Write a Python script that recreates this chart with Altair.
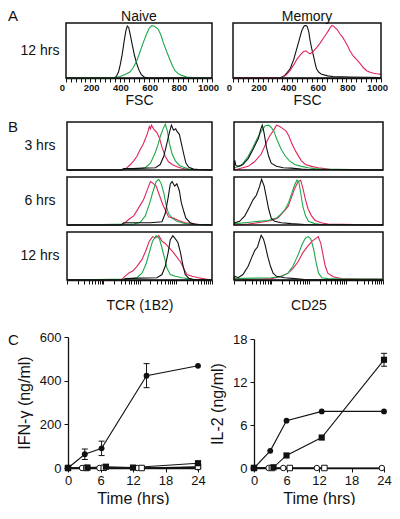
import math
import altair as alt
import pandas as pd

FONT = "Liberation Sans"
W, H = 384, 497
INK = "#111111"
GREEN = "#1ea84a"
RED = "#e0245a"

# ---------------- Panel A : FSC histograms at 12 hrs (channel 0-1000, relative count) ----------------
fsc_ticks = [i * 100 / 3 for i in range(31)]
naive_black_x = [0, 330, 345, 360, 372, 385, 398, 410, 420, 430, 442, 455, 470, 485, 500, 515, 535, 560, 1000]
naive_black_y = [0, 0, 0.03, 0.12, 0.26, 0.45, 0.7, 0.9, 0.99, 0.96, 0.8, 0.62, 0.42, 0.27, 0.15, 0.07, 0.02, 0, 0]
naive_green_x = [0, 330, 370, 416, 440, 461, 485, 507, 530, 553, 570, 587, 605, 632, 650, 667, 690, 712, 730, 747, 770, 792, 827, 870, 1000]
naive_green_y = [0, 0, 0.03, 0.08, 0.12, 0.2, 0.33, 0.5, 0.68, 0.85, 0.95, 1.0, 0.99, 0.93, 0.82, 0.67, 0.5, 0.35, 0.23, 0.14, 0.08, 0.05, 0.02, 0.01, 0]
memory_black_x = [0, 318, 350, 385, 410, 430, 450, 464, 478, 486, 495, 502, 512, 520, 532, 543, 555, 565, 580, 599, 640, 676, 790, 1000]
memory_black_y = [0, 0, 0.05, 0.17, 0.35, 0.55, 0.75, 0.9, 0.98, 1.0, 1.0, 0.98, 0.88, 0.73, 0.56, 0.43, 0.28, 0.17, 0.11, 0.07, 0.04, 0.03, 0.02, 0.01]
memory_red_x = [0, 329, 360, 385, 410, 430, 455, 475, 493, 505, 520, 540, 565, 590, 610, 630, 644, 656, 667, 680,
                689, 705, 723, 740, 757, 775, 790, 812, 836, 858, 880, 903, 926, 950, 971, 1000]
memory_red_y = [0, 0, 0.06, 0.14, 0.25, 0.35, 0.44, 0.5, 0.52, 0.49, 0.46, 0.5, 0.58, 0.67, 0.76, 0.84, 0.9, 0.96, 1.0, 0.99,
                0.96, 0.92, 0.84, 0.78, 0.7, 0.61, 0.52, 0.42, 0.35, 0.28, 0.2, 0.14, 0.11, 0.09, 0.08, 0.07]

# ---------------- Panel B : fluorescence histograms (log10 decades 0-4) ----------------
log_ticks = sorted([d + math.log10(k) for d in range(4) for k in range(1, 10)] + [4])
row_labels = ["3 hrs", "6 hrs", "12 hrs"]

tcr3_black_x = [0, 1.5, 1.56, 1.8, 2.1, 2.44, 2.57, 2.67, 2.76, 2.82, 2.88, 2.94, 3.0, 3.03, 3.1, 3.15, 3.22, 3.28, 3.36, 3.49, 3.63, 4]
tcr3_black_y = [0, 0, 0.03, 0.03, 0.04, 0.05, 0.12, 0.3, 0.6, 0.8, 0.98, 0.87, 0.9, 0.85, 0.78, 0.6, 0.35, 0.15, 0.06, 0.02, 0.01, 0]
tcr3_red_x = [0, 1.55, 1.61, 1.75, 1.84, 1.93, 2.02, 2.11, 2.21, 2.24, 2.27, 2.3, 2.33, 2.39, 2.48, 2.55, 2.62, 2.71, 2.8, 2.9, 3.03, 3.17, 3.36, 4]
tcr3_red_y = [0, 0, 0.02, 0.12, 0.2, 0.3, 0.45, 0.58, 0.78, 0.86, 0.95, 0.9, 0.98, 0.9, 0.82, 0.7, 0.5, 0.3, 0.18, 0.12, 0.07, 0.04, 0.01, 0]
tcr3_green_x = [0, 1.9, 2.16, 2.3, 2.42, 2.51, 2.58, 2.65, 2.71, 2.77, 2.82, 2.9, 2.99, 3.1, 3.22, 3.36, 3.5, 4]
tcr3_green_y = [0, 0.01, 0.05, 0.15, 0.35, 0.55, 0.75, 0.9, 1.0, 0.85, 0.6, 0.35, 0.2, 0.1, 0.06, 0.02, 0.01, 0]

tcr6_black_x = [0, 1.5, 1.56, 2.0, 2.3, 2.62, 2.71, 2.79, 2.85, 2.9, 2.97, 3.03, 3.1, 3.15, 3.22, 3.28, 3.4, 3.54, 4]
tcr6_black_y = [0, 0, 0.05, 0.05, 0.05, 0.07, 0.25, 0.6, 0.9, 0.95, 0.85, 0.9, 0.75, 0.5, 0.3, 0.15, 0.05, 0.01, 0]
tcr6_red_x = [0, 1.5, 1.56, 1.7, 1.84, 1.98, 2.11, 2.23, 2.3, 2.36, 2.46, 2.55, 2.64, 2.73, 2.8, 2.94, 3.08, 3.26, 3.49, 3.63, 4]
tcr6_red_y = [0, 0, 0.02, 0.12, 0.2, 0.38, 0.55, 0.8, 0.95, 0.92, 0.85, 0.65, 0.45, 0.3, 0.18, 0.15, 0.1, 0.05, 0.03, 0.01, 0]
tcr6_green_x = [0, 1.84, 2.02, 2.16, 2.27, 2.36, 2.46, 2.53, 2.6, 2.67, 2.73, 2.8, 2.9, 3.03, 3.22, 3.4, 4]
tcr6_green_y = [0, 0.02, 0.06, 0.2, 0.45, 0.7, 0.95, 1.0, 0.9, 0.7, 0.45, 0.25, 0.15, 0.08, 0.04, 0.02, 0]

tcr12_black_x = [0, 1.55, 1.61, 2.0, 2.48, 2.62, 2.71, 2.79, 2.85, 2.92, 2.99, 3.06, 3.13, 3.19, 3.26, 3.36, 3.49, 4]
tcr12_black_y = [0, 0, 0.03, 0.04, 0.05, 0.12, 0.3, 0.6, 0.88, 0.97, 0.9, 0.82, 0.6, 0.35, 0.12, 0.04, 0.01, 0]
tcr12_red_x = [0, 1.5, 1.56, 1.7, 1.82, 1.93, 2.07, 2.18, 2.27, 2.36, 2.44, 2.53, 2.62, 2.71, 2.82, 2.94, 3.03, 3.13, 3.22, 3.31, 3.45, 3.63, 3.82, 4]
tcr12_red_y = [0, 0, 0.05, 0.15, 0.2, 0.3, 0.45, 0.65, 0.85, 0.95, 0.92, 0.97, 0.85, 0.8, 0.7, 0.6, 0.5, 0.4, 0.25, 0.12, 0.08, 0.05, 0.02, 0]
tcr12_green_x = [0, 1.66, 1.93, 2.07, 2.18, 2.27, 2.36, 2.46, 2.55, 2.62, 2.7, 2.76, 2.85, 2.99, 3.17, 3.36, 3.49, 4]
tcr12_green_y = [0, 0.02, 0.05, 0.15, 0.35, 0.6, 0.85, 0.97, 0.9, 0.7, 0.45, 0.25, 0.12, 0.08, 0.05, 0.03, 0.01, 0]

cd3_black_x = [0, 0.02, 0.05, 0.11, 0.24, 0.38, 0.51, 0.6, 0.66, 0.72, 0.76, 0.81, 0.87, 0.93, 1.0, 1.14, 1.32, 1.54, 1.81, 1.99, 4]
cd3_black_y = [0, 0.21, 0.1, 0.08, 0.12, 0.25, 0.45, 0.6, 0.7, 0.9, 0.98, 0.8, 0.5, 0.3, 0.15, 0.08, 0.05, 0.04, 0.02, 0.01, 0]
cd3_green_x = [0, 0.02, 0.2, 0.38, 0.51, 0.63, 0.73, 0.84, 0.93, 1.0, 1.07, 1.16, 1.27, 1.38, 1.49, 1.63, 1.81, 1.99, 2.17, 2.34, 4]
cd3_green_y = [0, 0.05, 0.1, 0.3, 0.5, 0.7, 0.85, 0.97, 0.98, 0.93, 0.85, 0.65, 0.45, 0.3, 0.2, 0.12, 0.08, 0.05, 0.03, 0.02, 0]
cd3_red_x = [0, 0.11, 0.38, 0.55, 0.73, 0.87, 0.96, 1.05, 1.14, 1.23, 1.32, 1.4, 1.47, 1.54, 1.63, 1.72, 1.81, 1.92, 2.08, 2.26, 2.43, 2.6, 4]
cd3_red_y = [0, 0.02, 0.08, 0.18, 0.35, 0.6, 0.75, 0.85, 0.98, 0.95, 0.9, 0.85, 0.75, 0.6, 0.45, 0.32, 0.2, 0.12, 0.08, 0.05, 0.03, 0.01, 0]

cd6_black_x = [0, 0.02, 0.15, 0.29, 0.42, 0.51, 0.6, 0.69, 0.74, 0.81, 0.87, 0.93, 1.0, 1.09, 1.27, 1.54, 1.9, 4]
cd6_black_y = [0, 0.05, 0.08, 0.2, 0.4, 0.55, 0.65, 0.85, 1.0, 0.85, 0.6, 0.35, 0.15, 0.08, 0.05, 0.03, 0.01, 0]
cd6_green_x = [0, 0.02, 0.29, 0.64, 0.91, 1.14, 1.27, 1.38, 1.47, 1.56, 1.63, 1.69, 1.74, 1.79, 1.85, 1.92, 2.0, 2.17, 2.34, 4]
cd6_green_y = [0, 0.03, 0.05, 0.08, 0.1, 0.15, 0.25, 0.35, 0.5, 0.72, 0.88, 0.98, 0.95, 0.7, 0.4, 0.2, 0.08, 0.03, 0.01, 0]
cd6_red_x = [0, 0.38, 0.73, 1.0, 1.18, 1.32, 1.45, 1.54, 1.63, 1.72, 1.79, 1.85, 1.92, 1.99, 2.08, 2.18, 2.34, 2.52, 4]
cd6_red_y = [0, 0.02, 0.06, 0.1, 0.15, 0.28, 0.4, 0.6, 0.8, 0.95, 0.98, 0.8, 0.55, 0.35, 0.2, 0.1, 0.05, 0.02, 0]

cd12_black_x = [0, 0.02, 0.11, 0.24, 0.38, 0.48, 0.56, 0.63, 0.69, 0.73, 0.79, 0.84, 0.91, 0.98, 1.05, 1.14, 1.36, 1.63, 1.9, 4]
cd12_black_y = [0, 0.08, 0.05, 0.12, 0.3, 0.5, 0.65, 0.72, 0.88, 0.98, 0.9, 0.75, 0.5, 0.3, 0.15, 0.08, 0.05, 0.03, 0.01, 0]
cd12_green_x = [0, 0.02, 0.55, 1.0, 1.27, 1.45, 1.58, 1.72, 1.83, 1.92, 1.99, 2.06, 2.13, 2.2, 2.27, 2.36, 2.52, 2.97, 3.96, 4]
cd12_green_y = [0, 0.03, 0.04, 0.05, 0.08, 0.15, 0.3, 0.55, 0.78, 0.92, 0.95, 0.9, 0.7, 0.4, 0.15, 0.05, 0.03, 0.02, 0.02, 0]
cd12_red_x = [0, 1.0, 1.18, 1.32, 1.45, 1.58, 1.72, 1.85, 1.99, 2.1, 2.18, 2.26, 2.33, 2.39, 2.45, 2.52, 2.66, 2.88, 3.42, 3.96, 4]
cd12_red_y = [0, 0.03, 0.06, 0.1, 0.15, 0.25, 0.4, 0.6, 0.75, 0.85, 0.9, 0.95, 0.8, 0.55, 0.3, 0.15, 0.07, 0.03, 0.02, 0.02, 0]

# ---------------- Panel C : cytokine secretion over time ----------------
time_ticks = [0, 6, 12, 18, 24]
ifn_ticks = [0, 200, 400, 600]
il2_ticks = [0, 6, 12, 18]

ifn_fc_t = [0, 3.1, 6.2, 14.5, 24]
ifn_fc_v = [0, 63, 90, 423, 468]
ifn_fc_err = [0, 24, 33, 55, 0]
ifn_fs_t = [0, 3.6, 7.0, 12.0, 24]
ifn_fs_v = [0, 2, 6, 2, 22]
ifn_oc_t = [0, 2.6, 5.8, 12.8, 24]
ifn_oc_v = [0, 0, 0, 0, 3]
ifn_os_t = [0, 3.4, 6.6, 13.6, 24]
ifn_os_v = [0, 0, 1, 0, 6]

il2_fc_t = [0, 3.0, 6.0, 12.5, 24]
il2_fc_v = [0, 2.4, 6.6, 7.9, 7.9]
il2_fs_t = [0, 3.6, 6.0, 12.5, 24]
il2_fs_v = [0, 0.1, 1.75, 4.25, 15.1]
il2_fs_err = [0, 0, 0, 0, 0.9]
il2_oc_t = [0, 2.7, 5.4, 11.6, 23.6]
il2_oc_v = [0, 0, 0, 0, 0]
il2_os_t = [0, 3.3, 6.6, 13.0]
il2_os_v = [0, 0, 0, 0]

panel_letters = ["A", "B", "C"]
a_titles = ["Naive", "Memory"]

# ---------------- layout (pixel ranges of each panel inside the canvas) ----------------
A_Y = (15, 70)
NAIVE_X = (58, 204)
MEM_X = (225, 373)
BL_X = (59, 204)
BR_X = (226, 375)
B_ROWS = [(114, 162), (169, 217), (224, 272)]
IFN_X, IFN_Y = (60, 190), (329, 460)
IL2_X, IL2_Y = (246, 376), (331, 460)

COLOR = alt.Color("s:N", scale=alt.Scale(domain=["black", "green", "red"], range=[INK, GREEN, RED]), legend=None)
YMAX = 1.05


def hist_panel(series, xdom, xr, yr, xaxis):
    rows = []
    for name, xs, ys in series:
        rows += [{"x": a, "y": b, "s": name} for a, b in zip(xs, ys)]
    df = pd.DataFrame(rows)
    xsc = alt.Scale(domain=xdom, range=list(xr), nice=False, zero=False)
    ysc = alt.Scale(domain=[0, YMAX], range=[yr[1], yr[0]], nice=False, zero=False)
    lines = alt.Chart(df).mark_line(strokeWidth=1.1).encode(
        x=alt.X("x:Q", scale=xsc, axis=xaxis),
        y=alt.Y("y:Q", scale=ysc, axis=None),
        color=COLOR, detail="s:N")
    box = alt.Chart(pd.DataFrame({"k": [0]})).mark_rect(
        fillOpacity=0, stroke=INK, strokeWidth=1.5).encode(
        x=alt.XDatum(xdom[0], scale=xsc, axis=xaxis), x2=alt.X2Datum(xdom[1]),
        y=alt.YDatum(0, scale=ysc, axis=None), y2=alt.Y2Datum(YMAX))
    return alt.layer(lines, box)


def fsc_axis(bottom):
    return alt.Axis(orient="bottom", offset=bottom - H, values=fsc_ticks,
                    labelExpr="round(datum.value) % 200 == 0 ? format(round(datum.value), 'd') : ''",
                    labelFlush=False, labelOverlap=False, labelOffset=-4, labelFontSize=9.5,
                    labelFontWeight="bold", labelPadding=0, tickSize=4, tickColor=INK,
                    domainColor=INK, domainWidth=1.5,
                    title="FSC", titleFontSize=14, titleFontWeight="normal", titlePadding=2)


def log_axis(bottom, title):
    return alt.Axis(orient="bottom", offset=bottom - H, values=log_ticks, labels=False,
                    tickSize=4, tickColor=INK, domainColor=INK, domainWidth=1.5,
                    title=title, titleFontSize=14, titleFontWeight="normal", titlePadding=14)


def time_panel(series, errs, ydom, yvals, xr, yr, ytitle):
    xsc = alt.Scale(domain=[0, 24], range=list(xr), nice=False, zero=False)
    ysc = alt.Scale(domain=ydom, range=[yr[1], yr[0]], nice=False, zero=False)
    xax = alt.Axis(orient="bottom", offset=yr[1] - H, values=time_ticks, format="d",
                   labelFontSize=13, labelPadding=2, labelFlush=False, labelOverlap=False,
                   tickSize=4, tickColor=INK, domainColor=INK, domainWidth=1.3,
                   title="Time (hrs)", titleFontSize=16, titleFontWeight="normal", titlePadding=3)
    yax = alt.Axis(orient="left", offset=-xr[0], values=yvals, format="d",
                   labelFontSize=13, labelPadding=3, labelFlush=False, labelOverlap=False,
                   tickSize=4, tickColor=INK, domainColor=INK, domainWidth=1.3,
                   title=ytitle, titleFontSize=16, titleFontWeight="normal", titlePadding=7)
    X = alt.X("t:Q", scale=xsc, axis=xax)
    Y = alt.Y("v:Q", scale=ysc, axis=yax)
    layers = []
    for t, v, shape, filled in series:
        df = pd.DataFrame({"t": t, "v": v})
        layers.append(alt.Chart(df).mark_line(color=INK, strokeWidth=1.1).encode(x=X, y=Y))
    t, v, e = errs
    edf = pd.DataFrame({"t": t, "lo": [a - b for a, b in zip(v, e)], "hi": [a + b for a, b in zip(v, e)], "e": e})
    edf = edf[edf["e"] > 0]
    layers.append(alt.Chart(edf).mark_rule(color=INK, strokeWidth=1).encode(
        x=X, y=alt.Y("lo:Q", scale=ysc, axis=yax), y2="hi:Q"))
    for col in ("lo", "hi"):
        layers.append(alt.Chart(edf).mark_tick(orient="horizontal", size=6, thickness=1, color=INK, opacity=1).encode(
            x=X, y=alt.Y(f"{col}:Q", scale=ysc, axis=yax)))
    for t, v, shape, filled in series:
        df = pd.DataFrame({"t": t, "v": v})
        if filled:
            mk = alt.Chart(df).mark_point(shape=shape, filled=True, color=INK, opacity=1,
                                          size=38 if shape == "square" else 34)
        else:
            mk = alt.Chart(df).mark_point(shape=shape, filled=True, fill="white", stroke=INK,
                                          strokeWidth=1, opacity=1, size=30)
        layers.append(mk.encode(x=X, y=Y))
    return alt.layer(*layers)


def label(text, x, y, size, align="center", baseline="middle"):
    return alt.Chart(pd.DataFrame({"t": [text]})).mark_text(
        align=align, baseline=baseline, fontSize=size, font=FONT, color=INK
    ).encode(text="t:N", x=alt.value(x), y=alt.value(y))


layers = []
# Panel A
layers.append(hist_panel([("black", naive_black_x, naive_black_y), ("green", naive_green_x, naive_green_y)],
                         [0, 1000], NAIVE_X, A_Y, fsc_axis(A_Y[1])))
layers.append(hist_panel([("black", memory_black_x, memory_black_y), ("red", memory_red_x, memory_red_y)],
                         [0, 1000], MEM_X, A_Y, fsc_axis(A_Y[1])))
# Panel B
tcr_sets = [
    [("red", tcr3_red_x, tcr3_red_y), ("green", tcr3_green_x, tcr3_green_y), ("black", tcr3_black_x, tcr3_black_y)],
    [("red", tcr6_red_x, tcr6_red_y), ("green", tcr6_green_x, tcr6_green_y), ("black", tcr6_black_x, tcr6_black_y)],
    [("red", tcr12_red_x, tcr12_red_y), ("green", tcr12_green_x, tcr12_green_y), ("black", tcr12_black_x, tcr12_black_y)],
]
cd_sets = [
    [("red", cd3_red_x, cd3_red_y), ("green", cd3_green_x, cd3_green_y), ("black", cd3_black_x, cd3_black_y)],
    [("red", cd6_red_x, cd6_red_y), ("green", cd6_green_x, cd6_green_y), ("black", cd6_black_x, cd6_black_y)],
    [("red", cd12_red_x, cd12_red_y), ("green", cd12_green_x, cd12_green_y), ("black", cd12_black_x, cd12_black_y)],
]
for i, yr in enumerate(B_ROWS):
    last = i == len(B_ROWS) - 1
    layers.append(hist_panel(tcr_sets[i], [0, 4], BL_X, yr, log_axis(yr[1], "TCR (1B2)") if last else None))
    layers.append(hist_panel(cd_sets[i], [0, 4], BR_X, yr, log_axis(yr[1], "CD25") if last else None))
# Panel C
layers.append(time_panel(
    [(ifn_oc_t, ifn_oc_v, "circle", False), (ifn_os_t, ifn_os_v, "square", False),
     (ifn_fs_t, ifn_fs_v, "square", True), (ifn_fc_t, ifn_fc_v, "circle", True)],
    (ifn_fc_t, ifn_fc_v, ifn_fc_err), [0, 600], ifn_ticks, IFN_X, IFN_Y, "IFN-γ (ng/ml)"))
layers.append(time_panel(
    [(il2_oc_t, il2_oc_v, "circle", False), (il2_os_t, il2_os_v, "square", False),
     (il2_fs_t, il2_fs_v, "square", True), (il2_fc_t, il2_fc_v, "circle", True)],
    (il2_fs_t, il2_fs_v, il2_fs_err), [0, 18], il2_ticks, IL2_X, IL2_Y, "IL-2 (ng/ml)"))

# text annotations
layers.append(label(panel_letters[0], 0, 13, 15, align="left", baseline="alphabetic"))
layers.append(label(a_titles[0], (NAIVE_X[0] + NAIVE_X[1]) / 2, 12.5, 14, baseline="alphabetic"))
layers.append(label(a_titles[1], (MEM_X[0] + MEM_X[1]) / 2, 12.5, 14, baseline="alphabetic"))
layers.append(label("12 hrs", 32, (A_Y[0] + A_Y[1]) / 2, 14))
layers.append(label(panel_letters[1], 0, B_ROWS[0][0] + 10, 15, align="left", baseline="alphabetic"))
for lab, yr in zip(row_labels, B_ROWS):
    layers.append(label(lab, 32, (yr[0] + yr[1]) / 2, 14))
layers.append(label(panel_letters[2], 0, IFN_Y[0] + 8, 15, align="left", baseline="alphabetic"))

chart = alt.layer(*layers).resolve_scale(x="independent", y="independent").properties(
    width=W, height=H, padding=0, autosize=alt.AutoSizeParams(type="none")
).configure_view(stroke=None).configure_axis(
    labelFont=FONT, titleFont=FONT, labelColor=INK, titleColor=INK, grid=False
)

chart.save("out.html", embed_options={"renderer": "svg", "actions": False})
